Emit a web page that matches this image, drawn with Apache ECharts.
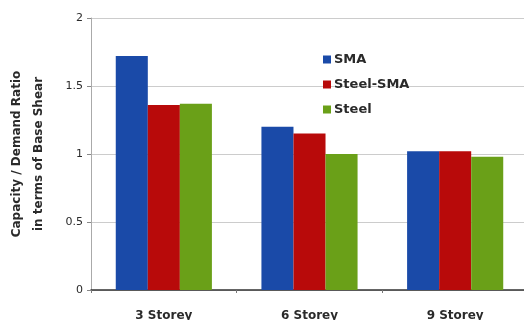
<!DOCTYPE html>
<html>
<head>
<meta charset="utf-8">
<script src="https://cdn.jsdelivr.net/npm/echarts@6/dist/echarts.min.js"></script>
<style>
  html, body { margin: 0; padding: 0; background: #fff; }
  #chart { width: 524px; height: 320px; }
</style>
</head>
<body>
<div id="chart"></div>
<script>
// Capacity / demand ratio (base shear) per building height
const categories = ['3 Storey', '6 Storey', '9 Storey'];
const smaValues = [1.72, 1.20, 1.02];
const steelSmaValues = [1.36, 1.15, 1.02];
const steelValues = [1.37, 1.00, 0.98];
const yTicks = [0, 0.5, 1, 1.5, 2];

const chart = echarts.init(document.getElementById('chart'));

const barSeries = (name, data, color) => ({
  name: name,
  type: 'bar',
  data: data,
  barGap: '0%',
  barCategoryGap: '34%',
  itemStyle: { color: color },
  emphasis: { disabled: true }
});

chart.setOption({
  animation: false,
  backgroundColor: '#ffffff',
  textStyle: { fontFamily: 'DejaVu Sans, sans-serif' },
  grid: { left: 91, width: 437, top: 18, bottom: 30, outerBoundsMode: 'none', containLabel: false },
  legend: {
    orient: 'vertical',
    left: 318,
    top: 48,
    itemWidth: 8,
    itemHeight: 8,
    itemGap: 12,
    icon: 'rect',
    textStyle: { fontSize: 13, fontWeight: 'bold', color: '#2a2a2a', padding: [0, 0, 0, -2] },
    data: ['SMA', 'Steel-SMA', 'Steel']
  },
  xAxis: {
    type: 'category',
    data: categories,
    axisLine: { lineStyle: { color: '#333', width: 1.5 } },
    axisTick: { show: true, length: 3, lineStyle: { color: '#777' } },
    axisLabel: { fontSize: 12, fontWeight: 'bold', color: '#2a2a2a', margin: 20 }
  },
  yAxis: {
    type: 'value',
    min: yTicks[0],
    max: yTicks[yTicks.length - 1],
    interval: 0.5,
    name: 'Capacity / Demand Ratio\nin terms of Base Shear',
    nameLocation: 'middle',
    nameGap: 41,
    nameTextStyle: { fontSize: 12, fontWeight: 'bold', color: '#2a2a2a', lineHeight: 22 },
    axisLine: { show: true, lineStyle: { color: '#aaa' } },
    axisTick: { show: true, inside: false, length: 4, lineStyle: { color: '#888' } },
    axisLabel: { fontSize: 11, color: '#2a2a2a', margin: 8 },
    splitLine: { show: true, lineStyle: { color: '#cccccc', width: 1 } }
  },
  series: [
    barSeries('SMA', smaValues, '#1a4aa8'),
    barSeries('Steel-SMA', steelSmaValues, '#b80a0a'),
    barSeries('Steel', steelValues, '#6aa018')
  ]
});
</script>
</body>
</html>
